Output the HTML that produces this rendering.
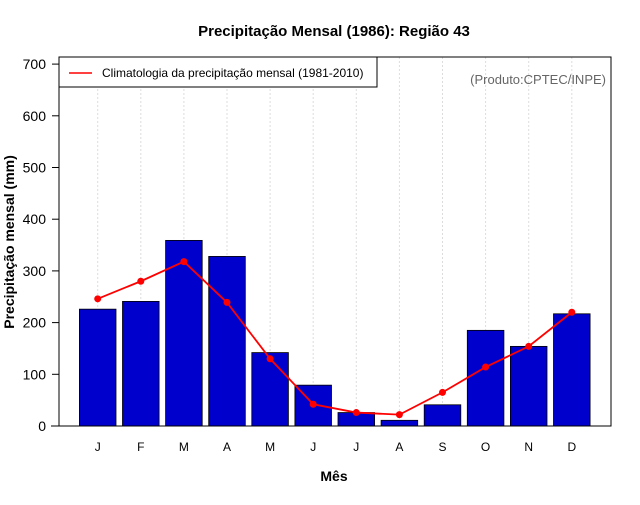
<!DOCTYPE html>
<html><head><meta charset="utf-8"><style>
body{margin:0;background:#fff;font-family:"Liberation Sans",sans-serif}
</style></head><body>
<svg id="c" width="640" height="500" xmlns="http://www.w3.org/2000/svg" font-family="Liberation Sans, sans-serif">
<rect width="640" height="500" fill="#fff"/>
<text x="334" y="36" text-anchor="middle" font-size="15" font-weight="bold">Precipitação Mensal (1986): Região 43</text>
<text x="334" y="481" text-anchor="middle" font-size="14" font-weight="bold">Mês</text>
<text transform="translate(14,242) rotate(-90)" text-anchor="middle" font-size="14" font-weight="bold">Precipitação mensal (mm)</text>
<g id="grid"></g><g id="bars"></g><g id="line"></g><g id="axes"></g>
<rect x="59" y="57" width="552" height="369" fill="none" stroke="#000" stroke-width="1"/>
<g>
<rect x="59" y="57" width="318" height="30" fill="#fff" stroke="#000"/>
<line x1="69" y1="73" x2="92" y2="73" stroke="red" stroke-width="1.5"/>
<text x="102" y="77" font-size="12">Climatologia da precipitação mensal (1981-2010)</text>
</g>
<text x="606" y="84" text-anchor="end" font-size="13" fill="#666">(Produto:CPTEC/INPE)</text>
</svg>
<script>
const months=["J","F","M","A","M","J","J","A","S","O","N","D"];
const observed=[226,241,359,328,142,79,26,11,41,185,154,217];
const climatology=[246,280,318,239,130,42,26,22,65,114,154,220];
const yTicks=[0,100,200,300,400,500,600,700];
const NS="http://www.w3.org/2000/svg";
const xS=i=>97.7+i*43.1;
const yS=v=>426-v*0.517;
function mk(p,t,a){const e=document.createElementNS(NS,t);for(const k in a)e.setAttribute(k,a[k]);document.getElementById(p).appendChild(e);return e;}
months.forEach((m,i)=>{
 let g=mk("grid","line",{x1:xS(i),x2:xS(i),y1:57,y2:426,stroke:"#ddd","stroke-dasharray":"2,2"});
 
 
 let b=mk("bars","rect",{x:xS(i)-18.3,y:yS(observed[i]),width:36.6,height:426-yS(observed[i]),fill:"#0000cd",stroke:"#000","stroke-width":0.8});
 
 
 let t=mk("axes","text",{x:xS(i),y:451,"text-anchor":"middle","font-size":12});
 t.textContent=m;
 
 
});
let pl=mk("line","polyline",{points:climatology.map((v,i)=>xS(i)+","+yS(v)).join(" "),fill:"none",stroke:"red","stroke-width":1.8});


climatology.forEach((v,i)=>{
 let c=mk("line","circle",{cx:xS(i),cy:yS(v),r:3.5,fill:"red"});
 
 
});
mk("axes","line",{x1:51,x2:59,y1:426,y2:426,stroke:"#000"});
yTicks.forEach(v=>{
 let l=mk("axes","line",{x1:52,x2:59,y1:yS(v),y2:yS(v),stroke:"#000"});
 
 
 let t=mk("axes","text",{x:46,y:yS(v)+5,"text-anchor":"end","font-size":14});
 t.textContent=v;
 
 
});
</script>
</body></html>
